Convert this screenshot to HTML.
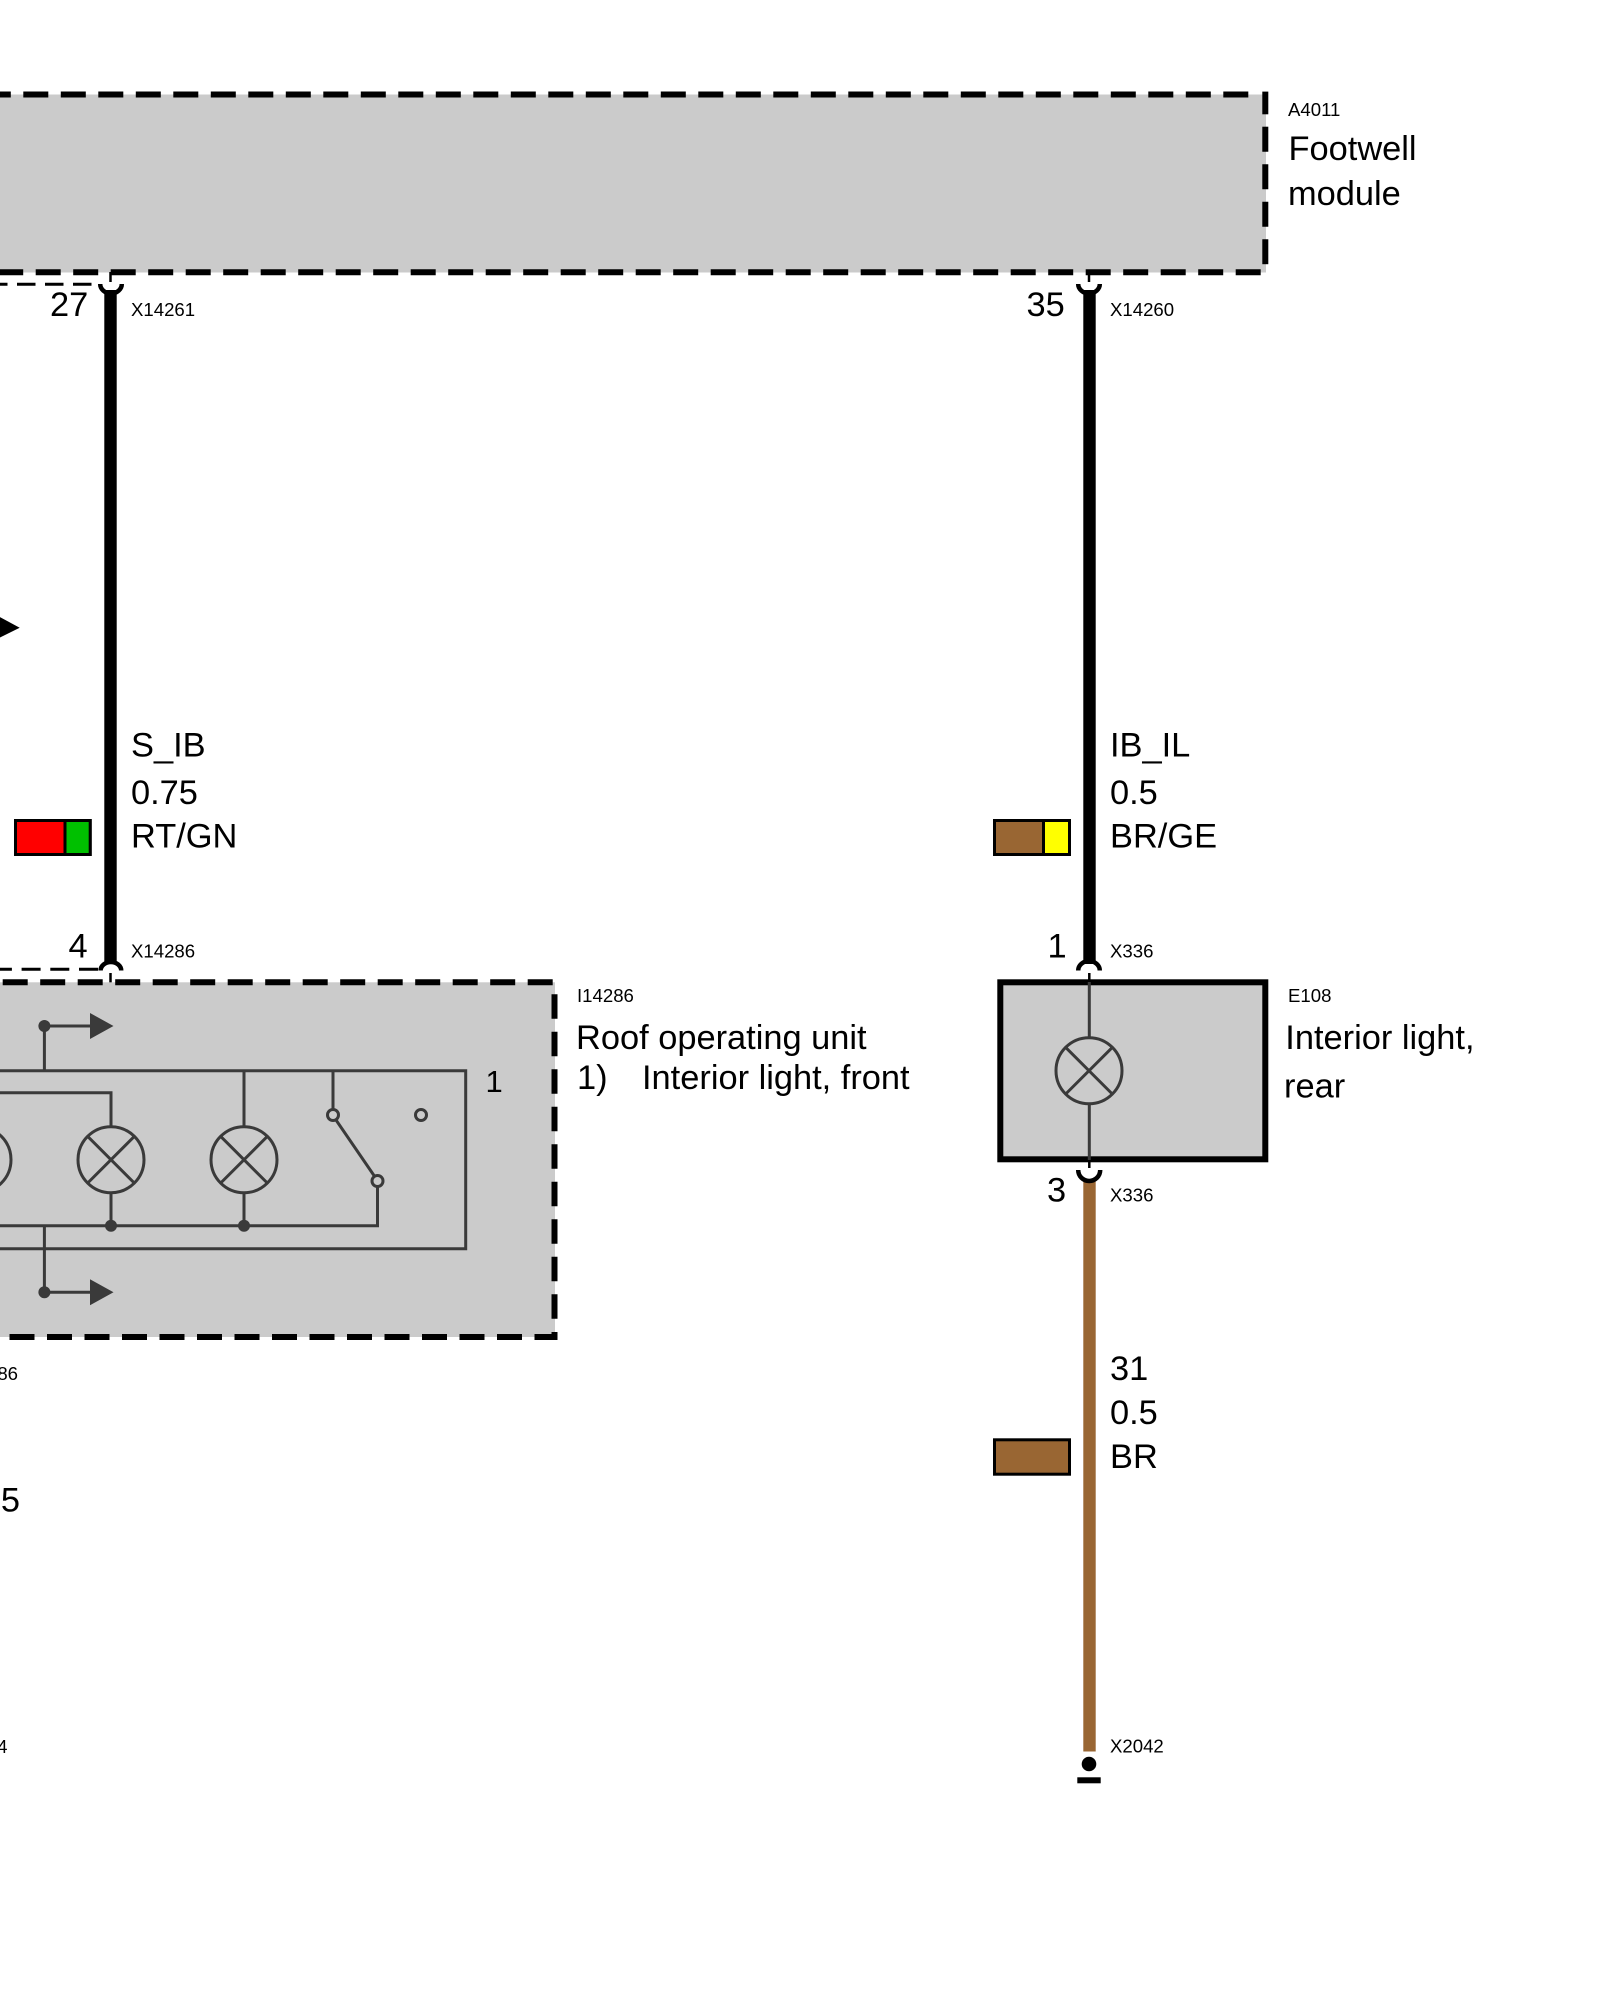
<!DOCTYPE html>
<html><head><meta charset="utf-8"><style>
html,body{margin:0;padding:0;background:#fff}
svg{display:block}
text{font-family:"Liberation Sans",Arial,sans-serif;fill:#000}
.b{font-size:34.4px}.s{font-size:18.6px}
</style></head><body>
<svg width="1600" height="2000" viewBox="0 0 1600 2000" xmlns="http://www.w3.org/2000/svg">
<rect width="1600" height="2000" fill="#fff"/>
<!-- Footwell module -->
<rect x="-10" y="94.5" width="1276" height="178" fill="#cbcbcb"/>
<g stroke="#000" stroke-width="6" fill="none">
<line x1="-14.2" y1="94.5" x2="1250" y2="94.5" stroke-dasharray="25 12.5"/>
<line x1="-1.8" y1="272.3" x2="1262" y2="272.3" stroke-dasharray="25 12.5"/>
<line x1="1265.3" y1="91.6" x2="1265.3" y2="114.3"/>
<line x1="1265.3" y1="126.7" x2="1265.3" y2="266" stroke-dasharray="25 12.5"/>
</g>
<!-- thin dashed -->
<line x1="-11" y1="284.3" x2="100" y2="284.3" stroke="#000" stroke-width="3" stroke-dasharray="18.5 9.5"/>
<line x1="98" y1="969.3" x2="-20" y2="969.3" stroke="#000" stroke-width="3" stroke-dasharray="19 9.7"/>
<!-- Wires -->
<rect x="104.3" y="290" width="12.4" height="674" fill="#000"/>
<rect x="1083.3" y="290" width="12.4" height="674" fill="#000"/>
<rect x="1083.3" y="1180" width="12.4" height="571.5" fill="#996633"/>
<!-- connectors -->
<g fill="none" stroke="#000" stroke-width="4.5">
<path d="M100.2 284 A10.8 9.5 0 0 0 121.8 284"/>
<path d="M1078.2 284 A10.8 9.5 0 0 0 1099.8 284"/>
<path d="M100.6 970.5 A10.3 8.5 0 0 1 121.2 970.5"/>
<path d="M1078.2 970.5 A10.8 9.5 0 0 1 1099.8 970.5"/>
<path d="M1078.2 1170 A11 11 0 0 0 1100.2 1170"/>
</g>
<g stroke="#000" stroke-width="2.5">
<line x1="110.5" y1="272" x2="110.5" y2="282"/>
<line x1="1089" y1="272" x2="1089" y2="282"/>
<line x1="110.5" y1="973" x2="110.5" y2="983"/>
<line x1="1089.3" y1="973" x2="1089.3" y2="983"/>
<line x1="1089.3" y1="1159" x2="1089.3" y2="1168"/>
</g>
<!-- Roof operating unit -->
<rect x="-10" y="982.3" width="565" height="354.7" fill="#cbcbcb"/>
<g stroke="#000" stroke-width="6" fill="none">
<line x1="-34.8" y1="982.3" x2="553" y2="982.3" stroke-dasharray="25 12.5"/>
<line x1="-28" y1="1337" x2="557.4" y2="1337" stroke-dasharray="25 12.5"/>
<line x1="554.5" y1="994.3" x2="554.5" y2="1320" stroke-dasharray="24.5 13"/>
<line x1="554.5" y1="1332" x2="554.5" y2="1339.9"/>
</g>
<!-- Roof inner symbols -->
<g stroke="#3a3a3a" stroke-width="3" fill="none">
<path d="M-5 1070.7H465.7V1248.7H-5"/>
<path d="M-5 1092.7H111V1126"/>
<path d="M111 1193.7V1225.7M244 1070.7V1126M244 1193.7V1225.7"/>
<path d="M-5 1225.7H377.5V1187"/>
<path d="M333 1070.7V1109M336 1120L374 1175.5"/>
<path d="M44.4 1070.7V1026H92M44.4 1225.7V1292.3H92"/>
<circle cx="-22" cy="1159.7" r="33"/>
<circle cx="111" cy="1159.7" r="33"/>
<path d="M87.7 1136.4L134.3 1183M134.3 1136.4L87.7 1183"/>
<circle cx="244" cy="1159.7" r="33"/>
<path d="M220.7 1136.4L267.3 1183M267.3 1136.4L220.7 1183"/>
<circle cx="333" cy="1115" r="5.5"/>
<circle cx="377.5" cy="1181" r="5.5"/>
<circle cx="421" cy="1115" r="5.5"/>
</g>
<g fill="#3a3a3a">
<circle cx="111" cy="1225.7" r="6"/>
<circle cx="244" cy="1225.7" r="6"/>
<circle cx="44.4" cy="1026" r="6"/>
<circle cx="44.4" cy="1292.3" r="6"/>
<polygon points="90,1013 113.5,1026 90,1039"/>
<polygon points="90,1279.3 113.5,1292.3 90,1305.3"/>
</g>
<!-- Interior light rear -->
<rect x="1000.3" y="982.3" width="265" height="177" fill="#cbcbcb" stroke="#000" stroke-width="6"/>
<g stroke="#3a3a3a" stroke-width="3" fill="none">
<path d="M1089.3 982V1037M1089.3 1104V1160"/>
<circle cx="1089" cy="1070.7" r="33"/>
<path d="M1065.7 1047.4L1112.3 1094M1112.3 1047.4L1065.7 1094"/>
</g>
<!-- ground -->
<circle cx="1089" cy="1764" r="7.3" fill="#000"/>
<rect x="1077.3" y="1777.3" width="23.4" height="6" fill="#000"/>
<!-- arrow left -->
<polygon points="-2,616 19.7,627.7 -2,638.5" fill="#000"/>
<!-- swatches -->
<rect x="15.5" y="820.5" width="74.7" height="34" fill="#ff0000" stroke="#000" stroke-width="3"/>
<rect x="65" y="820.5" width="25.2" height="34" fill="#00c000" stroke="#000" stroke-width="3"/>
<rect x="994.5" y="820.5" width="75" height="34" fill="#996633" stroke="#000" stroke-width="3"/>
<rect x="1043.5" y="820.5" width="26" height="34" fill="#ffff00" stroke="#000" stroke-width="3"/>
<rect x="994.5" y="1439.8" width="75" height="34.4" fill="#996633" stroke="#000" stroke-width="3"/>
<!-- text -->
<text class="s" x="1288" y="116">A4011</text>
<text class="b" x="1288.5" y="160">Footwell</text>
<text class="b" x="1288" y="205">module</text>
<text class="b" x="50" y="316">27</text>
<text class="s" x="131" y="316">X14261</text>
<text class="b" x="1026.5" y="316">35</text>
<text class="s" x="1110" y="316">X14260</text>
<text class="b" x="131" y="756.7">S_IB</text>
<text class="b" x="131" y="804">0.75</text>
<text class="b" x="131" y="847.5">RT/GN</text>
<text class="b" x="1110" y="756.7">IB_IL</text>
<text class="b" x="1110" y="804">0.5</text>
<text class="b" x="1110" y="847.5">BR/GE</text>
<text class="b" x="68.5" y="957.3">4</text>
<text class="s" x="131" y="957.3">X14286</text>
<text class="b" x="1047.5" y="957.3">1</text>
<text class="s" x="1110" y="957.3">X336</text>
<text class="b" x="1047" y="1201.7">3</text>
<text class="s" x="1110" y="1201.7">X336</text>
<text class="s" x="577" y="1002">I14286</text>
<text class="b" x="576" y="1049">Roof operating unit</text>
<text class="b" x="577" y="1089">1)</text>
<text class="b" x="642" y="1089">Interior light, front</text>
<text class="b" x="485.5" y="1097" style="font-size:31px" transform="translate(0 -5)">1</text>
<text class="s" x="1288" y="1002">E108</text>
<text class="b" x="1285.3" y="1049">Interior light,</text>
<text class="b" x="1284" y="1097.3">rear</text>
<text class="b" x="1110" y="1380">31</text>
<text class="b" x="1110" y="1424">0.5</text>
<text class="b" x="1110" y="1468">BR</text>
<text class="s" x="1110" y="1752.7">X2042</text>
<text class="s" x="18" y="1380" text-anchor="end">X14286</text>
<text class="b" x="20" y="1511.7" text-anchor="end">0.75</text>
<text class="s" x="7.5" y="1753" text-anchor="end">X2044</text>
</svg>
</body></html>
